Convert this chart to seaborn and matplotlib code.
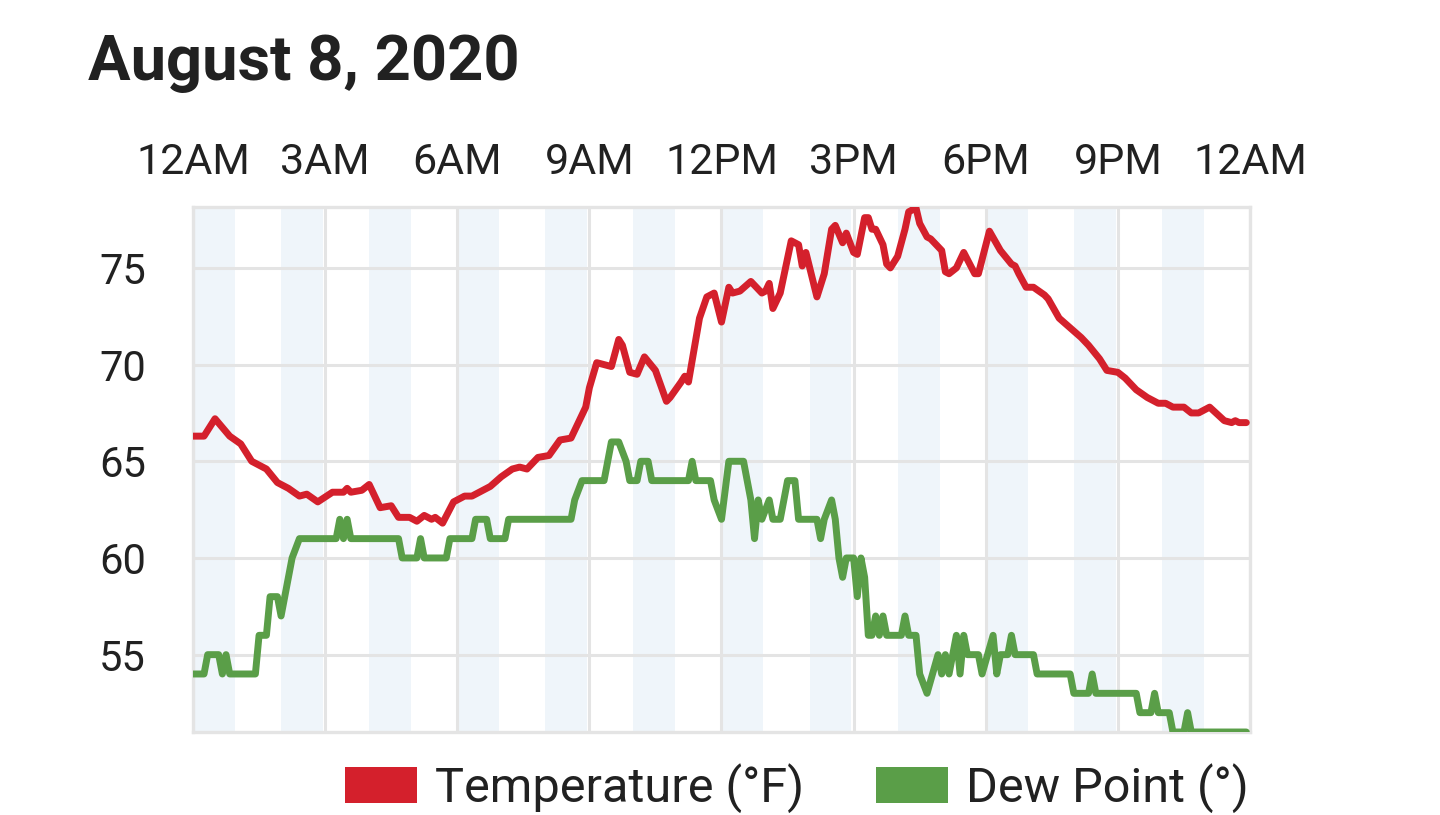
import matplotlib
matplotlib.use("Agg")
import matplotlib.pyplot as plt
from matplotlib.patches import Patch
import seaborn as sns
import numpy as np
import pandas as pd

# readings, minutes after midnight
temp_min = [0, 15, 30, 50, 65, 80, 100, 115, 130, 145, 155, 170, 190, 205, 210, 215, 230, 240,
            255, 270, 280, 295, 305, 315, 325, 330, 340, 355, 370, 380, 390, 405, 420, 435, 445,
            455, 470, 485, 500, 515, 535, 540, 550, 570, 580, 585, 595, 605, 615, 630, 645, 650,
            665, 670, 675, 685, 690, 700, 710, 720, 730, 735, 745, 760, 775, 780, 785, 790, 800,
            815, 825, 830, 835, 850, 860, 870, 875, 885, 890, 900, 905, 915, 920, 925, 930, 940,
            945, 950, 960, 970, 975, 985, 990, 1000, 1005, 1020, 1025, 1030, 1040, 1050, 1065,
            1070, 1085, 1100, 1115, 1120, 1125, 1135, 1145, 1160, 1165, 1180, 1195, 1210, 1220,
            1235, 1245, 1260, 1270, 1285, 1300, 1315, 1325, 1335, 1350, 1360, 1370, 1385, 1405,
            1415, 1420, 1425, 1435]
temp_val = [66.3, 66.3, 67.2, 66.3, 65.9, 65.0, 64.6, 63.9, 63.6, 63.2, 63.3, 62.9, 63.4, 63.4,
            63.6, 63.4, 63.5, 63.8, 62.6, 62.7, 62.1, 62.1, 61.9, 62.2, 62.0, 62.1, 61.8, 62.9,
            63.2, 63.2, 63.4, 63.7, 64.2, 64.6, 64.7, 64.6, 65.2, 65.3, 66.1, 66.2, 67.8, 68.8,
            70.1, 69.9, 71.3, 71.0, 69.6, 69.5, 70.4, 69.7, 68.1, 68.3, 69.1, 69.4, 69.1, 71.3,
            72.4, 73.5, 73.7, 72.2, 74.0, 73.7, 73.8, 74.3, 73.7, 73.8, 74.2, 72.9, 73.7, 76.4,
            76.2, 75.1, 75.8, 73.5, 74.7, 77.0, 77.2, 76.3, 76.8, 75.8, 75.7, 77.6, 77.6, 77.0,
            77.0, 76.2, 75.2, 75.0, 75.6, 77.0, 77.9, 78.1, 77.3, 76.6, 76.5, 75.9, 74.8, 74.7,
            75.0, 75.8, 74.7, 74.7, 76.9, 75.9, 75.2, 75.1, 74.7, 74.0, 74.0, 73.6, 73.4, 72.4,
            71.9, 71.4, 71.0, 70.3, 69.7, 69.6, 69.3, 68.7, 68.3, 68.0, 68.0, 67.8, 67.8, 67.5,
            67.5, 67.8, 67.1, 67.0, 67.1, 67.0, 67.0]

dew_min = [0, 15, 20, 35, 40, 45, 50, 85, 90, 100, 105, 115, 120, 135, 145, 195, 200, 205, 210,
           215, 280, 285, 305, 310, 315, 345, 350, 380, 385, 400, 405, 425, 430, 515, 520, 530,
           560, 565, 570, 580, 590, 595, 605, 610, 620, 625, 675, 680, 685, 705, 710, 720, 730,
           750, 760, 765, 770, 775, 785, 790, 800, 805, 810, 820, 825, 850, 855, 860, 870, 875,
           880, 885, 890, 900, 905, 910, 915, 920, 925, 930, 935, 940, 945, 965, 970, 975, 985,
           990, 1000, 1015, 1020, 1025, 1030, 1035, 1040, 1045, 1050, 1055, 1070, 1075, 1090,
           1095, 1100, 1110, 1115, 1120, 1145, 1150, 1195, 1200, 1220, 1225, 1230, 1285, 1290,
           1305, 1310, 1315, 1330, 1335, 1350, 1355, 1360, 1435]
dew_val = [54, 54, 55, 55, 54, 55, 54, 54, 56, 56, 58, 58, 57, 60, 61, 61, 62, 61, 62,
           61, 61, 60, 60, 61, 60, 60, 61, 61, 62, 62, 61, 61, 62, 62, 63, 64,
           64, 65, 66, 66, 65, 64, 64, 65, 65, 64, 64, 65, 64, 64, 63, 62, 65,
           65, 63, 61, 63, 62, 63, 62, 62, 63, 64, 64, 62, 62, 61, 62, 63, 62,
           60, 59, 60, 60, 58, 60, 59, 56, 56, 57, 56, 57, 56, 56, 57, 56, 56,
           54, 53, 55, 54, 55, 54, 55, 56, 54, 56, 55, 55, 54, 56,
           54, 55, 55, 56, 55, 55, 54, 54, 53, 53, 54, 53, 53, 52,
           52, 53, 52, 52, 51, 51, 52, 51, 51]

series_names = ["Temperature (°F)", "Dew Point (°)"]
series_colors = ["#d4202c", "#5a9e48"]
hour_ticks = [0, 3, 6, 9, 12, 15, 18, 21, 24]
hour_labels = ["12AM", "3AM", "6AM", "9AM", "12PM", "3PM", "6PM", "9PM", "12AM"]
y_ticks = [55, 60, 65, 70, 75]

df = pd.concat([
    pd.DataFrame({"hour": np.array(temp_min) / 60, "value": temp_val, "series": series_names[0]}),
    pd.DataFrame({"hour": np.array(dew_min) / 60, "value": dew_val, "series": series_names[1]}),
])

sns.set_theme(style="white")
plt.rcParams["font.family"] = ["Roboto", "DejaVu Sans"]
text_col = "#212121"
grid_col = "#e4e4e4"

fig = plt.figure(figsize=(14.4, 8.15), dpi=100)
ax = fig.add_axes([193 / 1440, 1 - 732 / 815, 1057 / 1440, 525 / 815])

# shaded hour bands
for h in range(0, 24, 2):
    ax.axvspan(h, h + 0.95, color="#eff5fa", zorder=0, lw=0)

sns.lineplot(data=df, x="hour", y="value", hue="series", palette=series_colors,
             hue_order=series_names, ax=ax, legend=False, zorder=3)
for ln in ax.lines:
    ln.set_linewidth(5.0)
    ln.set_solid_joinstyle("round")

ax.set_xlim(0, 24)
ax.set_ylim(51, 78.15)
ax.set_xticks(hour_ticks)
ax.set_xticklabels(hour_labels)
ax.set_yticks(y_ticks)
ax.xaxis.tick_top()
ax.tick_params(axis="x", length=0, pad=17, labelsize=31, labelcolor=text_col)
ax.tick_params(axis="y", length=0, pad=34, labelsize=30, labelcolor=text_col)
ax.set_xlabel("")
ax.set_ylabel("")
ax.set_axisbelow(True)
ax.grid(True, color=grid_col, lw=2.2)
for s in ax.spines.values():
    s.set_color(grid_col)
    s.set_linewidth(2.4)

fig.text(88 / 1440, 1 - 80 / 815, "August 8, 2020", fontsize=45.5, fontweight="bold",
         color=text_col, ha="left", va="baseline")

handles = [Patch(facecolor=c, edgecolor="none") for c in series_colors]
fig.legend(handles, series_names, loc="center right", bbox_to_anchor=(1249 / 1440, 1 - 788 / 815),
           ncol=2, frameon=False, fontsize=35, handlelength=1.48, handleheight=0.74,
           handletextpad=0.37, columnspacing=1.48, borderpad=0, borderaxespad=0,
           labelcolor=text_col)

fig.savefig("out.png", dpi=100, facecolor="white")
